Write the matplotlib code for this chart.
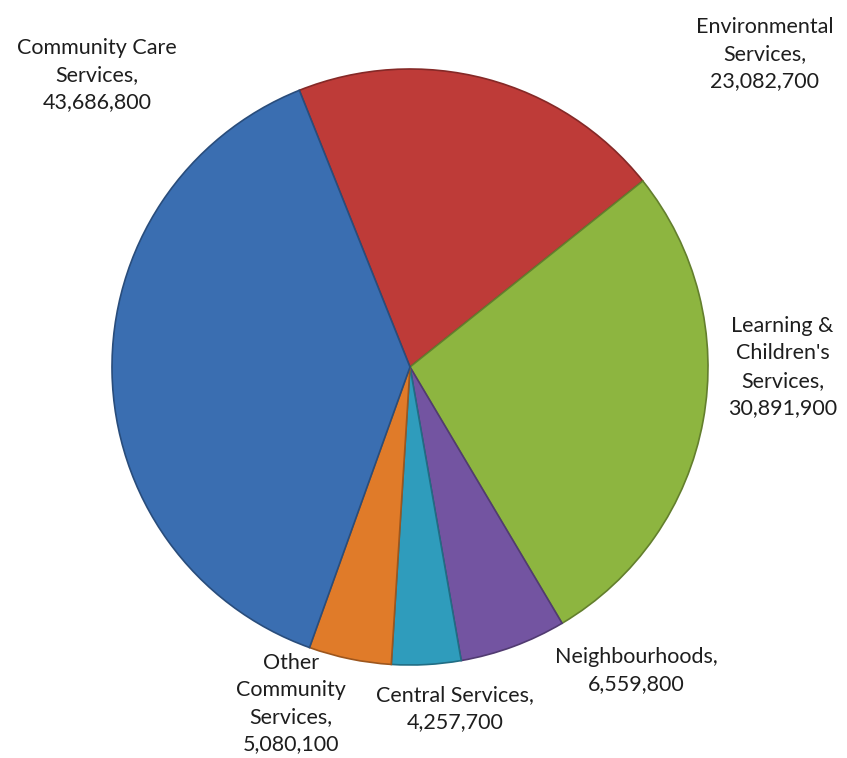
import matplotlib.pyplot as plt
import matplotlib.colors as mcolors

plt.rcParams['font.family'] = ['Lato', 'DejaVu Sans']

categories = ["Environmental\nServices", "Learning &\nChildren's\nServices",
              "Neighbourhoods", "Central Services", "Other\nCommunity\nServices",
              "Community Care\nServices"]
values = [23082700, 30891900, 6559800, 4257700, 5080100, 43686800]
colors = ['#BE3B38', '#8DB540', '#7354A1', '#2F9CBC', '#E07B29', '#3A6EB1']

# label centres in pie-radius units
label_pos = [(1.19, 1.05), (1.25, 0.0), (0.76, -1.02), (0.15, -1.145),
             (-0.40, -1.13), (-1.05, 0.98)]

fig = plt.figure(figsize=(8.47, 7.58), dpi=100)
cx, cy, r = 410, 367, 298
ax = fig.add_axes([(cx - r) / 847, (758 - cy - r) / 758, 2 * r / 847, 2 * r / 758])

wedges, _ = ax.pie(values, colors=colors, startangle=90 + 21.8, counterclock=False,
                   radius=1.0, wedgeprops=dict(linewidth=1.2))
for w, c in zip(wedges, colors):
    rgb = mcolors.to_rgb(c)
    w.set_edgecolor(tuple(v * 0.7 for v in rgb))

for name, v, (x, y) in zip(categories, values, label_pos):
    ax.text(x, y, f"{name},\n{v:,}", ha='center', va='center',
            fontsize=15.5, color='#1e1e1e', linespacing=1.45)

ax.set_xlim(-1, 1)
ax.set_ylim(-1, 1)
ax.set_aspect('equal')
ax.axis('off')
fig.savefig('out.png', dpi=100)
